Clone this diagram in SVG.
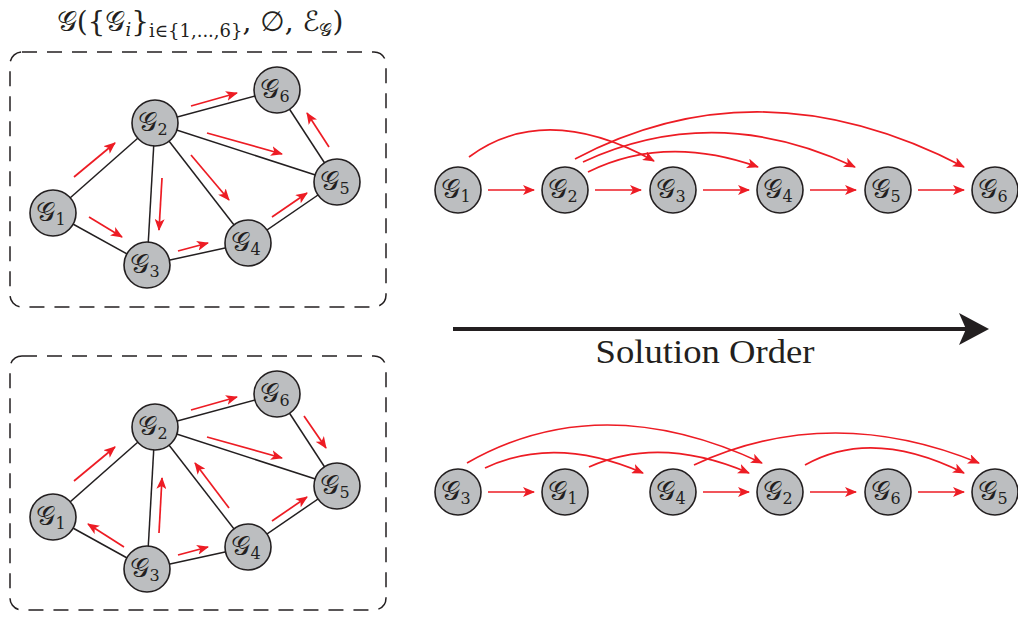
<svg xmlns="http://www.w3.org/2000/svg" width="1018" height="617" viewBox="0 0 1018 617">
<style>
.box{fill:none;stroke:#231f20;stroke-width:1.5;stroke-dasharray:15 10}
.edge{stroke:#231f20;stroke-width:1.5;fill:none}
.node circle{fill:#bcbec0;stroke:#231f20;stroke-width:1.6}
.lbl{font-family:"DejaVu Serif","DejaVu Sans",serif;font-size:27px;fill:#231f20}
.sub{font-size:16px}
.tsub{font-size:18px}
.ra{stroke:#ed1c24;stroke-width:1.7;fill:none;marker-end:url(#rh)}
.title{font-family:"DejaVu Serif","DejaVu Sans",serif;font-size:28px;fill:#231f20}
</style>
<defs>
<marker id="rh" viewBox="0 0 12 10" refX="11" refY="5" markerWidth="12" markerHeight="10" markerUnits="userSpaceOnUse" orient="auto">
<path d="M0,0 L12,5 L0,10 L3,5 Z" fill="#ed1c24"/>
</marker>
</defs>
<rect width="1018" height="617" fill="#fff"/>

<text class="title" x="200" y="31" text-anchor="middle">𝒢({𝒢<tspan class="tsub" font-style="italic" dy="5">i</tspan><tspan dy="-5">}</tspan><tspan class="tsub" dy="6">i∈{1,...,6}</tspan><tspan dy="-6">, ∅, ℰ</tspan><tspan class="tsub" dy="5">𝒢</tspan><tspan dy="-5">)</tspan></text>

<rect class="box" x="10" y="52" width="376" height="255" rx="12"/>
<rect class="box" x="10" y="356" width="376" height="254" rx="12"/>

<g id="connectors">
<g>
<line class="edge" x1="53" y1="213" x2="155" y2="123"/>
<line class="edge" x1="53" y1="213" x2="147" y2="265"/>
<line class="edge" x1="155" y1="123" x2="147" y2="265"/>
<line class="edge" x1="155" y1="123" x2="248" y2="243"/>
<line class="edge" x1="155" y1="123" x2="337" y2="182"/>
<line class="edge" x1="155" y1="123" x2="277" y2="90"/>
<line class="edge" x1="147" y1="265" x2="248" y2="243"/>
<line class="edge" x1="248" y1="243" x2="337" y2="182"/>
<line class="edge" x1="337" y1="182" x2="277" y2="90"/>
</g>
<g>
<line class="ra" x1="74" y1="177" x2="115" y2="143"/>
<line class="ra" x1="89" y1="217" x2="122" y2="237"/>
<line class="ra" x1="162" y1="178" x2="159" y2="230"/>
<line class="ra" x1="191" y1="155" x2="229" y2="200"/>
<line class="ra" x1="207" y1="133" x2="282" y2="154"/>
<line class="ra" x1="191" y1="106" x2="237" y2="93"/>
<line class="ra" x1="178" y1="251" x2="208" y2="243"/>
<line class="ra" x1="272" y1="217" x2="307" y2="193"/>
<line class="ra" x1="329" y1="147" x2="307" y2="113"/>
</g>
<g>
<line class="edge" x1="53" y1="517" x2="155" y2="427"/>
<line class="edge" x1="53" y1="517" x2="147" y2="569"/>
<line class="edge" x1="155" y1="427" x2="147" y2="569"/>
<line class="edge" x1="155" y1="427" x2="248" y2="547"/>
<line class="edge" x1="155" y1="427" x2="337" y2="486"/>
<line class="edge" x1="155" y1="427" x2="277" y2="394"/>
<line class="edge" x1="147" y1="569" x2="248" y2="547"/>
<line class="edge" x1="248" y1="547" x2="337" y2="486"/>
<line class="edge" x1="337" y1="486" x2="277" y2="394"/>
</g>
<g>
<line class="ra" x1="74" y1="481" x2="115" y2="447"/>
<line class="ra" x1="124" y1="547" x2="88" y2="524"/>
<line class="ra" x1="159" y1="533" x2="162" y2="478"/>
<line class="ra" x1="229" y1="508" x2="195" y2="463"/>
<line class="ra" x1="207" y1="437" x2="282" y2="458"/>
<line class="ra" x1="191" y1="410" x2="237" y2="397"/>
<line class="ra" x1="178" y1="555" x2="208" y2="547"/>
<line class="ra" x1="272" y1="521" x2="307" y2="497"/>
<line class="ra" x1="304" y1="416" x2="326" y2="448"/>
</g>
<g>
<line class="ra" x1="488" y1="190" x2="534" y2="190"/>
<line class="ra" x1="595" y1="190" x2="641" y2="190"/>
<line class="ra" x1="703" y1="190" x2="749" y2="190"/>
<line class="ra" x1="810" y1="190" x2="856" y2="190"/>
<line class="ra" x1="918" y1="190" x2="964" y2="190"/>
<path class="ra" d="M469,157 Q545,101 654,161"/>
<path class="ra" d="M588,172 Q665,134 758,167"/>
<path class="ra" d="M583,162 Q715,101 855,167"/>
<path class="ra" d="M575,159 Q760,61 964,167"/>
</g>
<g>
<line class="ra" x1="488" y1="492" x2="534" y2="492"/>
<line class="ra" x1="703" y1="492" x2="749" y2="492"/>
<line class="ra" x1="810" y1="492" x2="856" y2="492"/>
<line class="ra" x1="918" y1="492" x2="964" y2="492"/>
<path class="ra" d="M467,463 Q600,387 762,463"/>
<path class="ra" d="M485,468 Q555,435 643,473"/>
<path class="ra" d="M589,467 Q660,435 749,473"/>
<path class="ra" d="M694,465 Q830,402 979,463"/>
<path class="ra" d="M805,465 Q872,427 964,473"/>
</g>
<g>
<line x1="453" y1="329" x2="968" y2="329" stroke="#231f20" stroke-width="4"/>
<path d="M989,329 L959,313 L966,329 L959,345 Z" fill="#231f20"/>
</g>
</g>
<text x="705" y="363" text-anchor="middle" font-family="'Liberation Serif',serif" font-size="33" textLength="219" lengthAdjust="spacingAndGlyphs" fill="#231f20">Solution Order</text>

<g id="tl-g1" class="node"><circle cx="53" cy="213" r="23"/><text class="lbl" x="51" y="221" text-anchor="middle">𝒢<tspan class="sub" dy="4">1</tspan></text></g>
<g id="tl-g2" class="node"><circle cx="155" cy="123" r="23"/><text class="lbl" x="153" y="131" text-anchor="middle">𝒢<tspan class="sub" dy="4">2</tspan></text></g>
<g id="tl-g3" class="node"><circle cx="147" cy="265" r="23"/><text class="lbl" x="145" y="273" text-anchor="middle">𝒢<tspan class="sub" dy="4">3</tspan></text></g>
<g id="tl-g4" class="node"><circle cx="248" cy="243" r="23"/><text class="lbl" x="246" y="251" text-anchor="middle">𝒢<tspan class="sub" dy="4">4</tspan></text></g>
<g id="tl-g5" class="node"><circle cx="337" cy="182" r="23"/><text class="lbl" x="335" y="190" text-anchor="middle">𝒢<tspan class="sub" dy="4">5</tspan></text></g>
<g id="tl-g6" class="node"><circle cx="277" cy="90" r="23"/><text class="lbl" x="275" y="98" text-anchor="middle">𝒢<tspan class="sub" dy="4">6</tspan></text></g>
<g id="bl-g1" class="node"><circle cx="53" cy="517" r="23"/><text class="lbl" x="51" y="525" text-anchor="middle">𝒢<tspan class="sub" dy="4">1</tspan></text></g>
<g id="bl-g2" class="node"><circle cx="155" cy="427" r="23"/><text class="lbl" x="153" y="435" text-anchor="middle">𝒢<tspan class="sub" dy="4">2</tspan></text></g>
<g id="bl-g3" class="node"><circle cx="147" cy="569" r="23"/><text class="lbl" x="145" y="577" text-anchor="middle">𝒢<tspan class="sub" dy="4">3</tspan></text></g>
<g id="bl-g4" class="node"><circle cx="248" cy="547" r="23"/><text class="lbl" x="246" y="555" text-anchor="middle">𝒢<tspan class="sub" dy="4">4</tspan></text></g>
<g id="bl-g5" class="node"><circle cx="337" cy="486" r="23"/><text class="lbl" x="335" y="494" text-anchor="middle">𝒢<tspan class="sub" dy="4">5</tspan></text></g>
<g id="bl-g6" class="node"><circle cx="277" cy="394" r="23"/><text class="lbl" x="275" y="402" text-anchor="middle">𝒢<tspan class="sub" dy="4">6</tspan></text></g>
<g id="tc-g1" class="node"><circle cx="458" cy="190" r="23"/><text class="lbl" x="456" y="198" text-anchor="middle">𝒢<tspan class="sub" dy="4">1</tspan></text></g>
<g id="tc-g2" class="node"><circle cx="565" cy="190" r="23"/><text class="lbl" x="563" y="198" text-anchor="middle">𝒢<tspan class="sub" dy="4">2</tspan></text></g>
<g id="tc-g3" class="node"><circle cx="673" cy="190" r="23"/><text class="lbl" x="671" y="198" text-anchor="middle">𝒢<tspan class="sub" dy="4">3</tspan></text></g>
<g id="tc-g4" class="node"><circle cx="780" cy="190" r="23"/><text class="lbl" x="778" y="198" text-anchor="middle">𝒢<tspan class="sub" dy="4">4</tspan></text></g>
<g id="tc-g5" class="node"><circle cx="888" cy="190" r="23"/><text class="lbl" x="886" y="198" text-anchor="middle">𝒢<tspan class="sub" dy="4">5</tspan></text></g>
<g id="tc-g6" class="node"><circle cx="995" cy="190" r="23"/><text class="lbl" x="993" y="198" text-anchor="middle">𝒢<tspan class="sub" dy="4">6</tspan></text></g>
<g id="bc-g3" class="node"><circle cx="458" cy="492" r="23"/><text class="lbl" x="456" y="500" text-anchor="middle">𝒢<tspan class="sub" dy="4">3</tspan></text></g>
<g id="bc-g1" class="node"><circle cx="565" cy="492" r="23"/><text class="lbl" x="563" y="500" text-anchor="middle">𝒢<tspan class="sub" dy="4">1</tspan></text></g>
<g id="bc-g4" class="node"><circle cx="673" cy="492" r="23"/><text class="lbl" x="671" y="500" text-anchor="middle">𝒢<tspan class="sub" dy="4">4</tspan></text></g>
<g id="bc-g2" class="node"><circle cx="780" cy="492" r="23"/><text class="lbl" x="778" y="500" text-anchor="middle">𝒢<tspan class="sub" dy="4">2</tspan></text></g>
<g id="bc-g6" class="node"><circle cx="888" cy="492" r="23"/><text class="lbl" x="886" y="500" text-anchor="middle">𝒢<tspan class="sub" dy="4">6</tspan></text></g>
<g id="bc-g5" class="node"><circle cx="995" cy="492" r="23"/><text class="lbl" x="993" y="500" text-anchor="middle">𝒢<tspan class="sub" dy="4">5</tspan></text></g>
</svg>
